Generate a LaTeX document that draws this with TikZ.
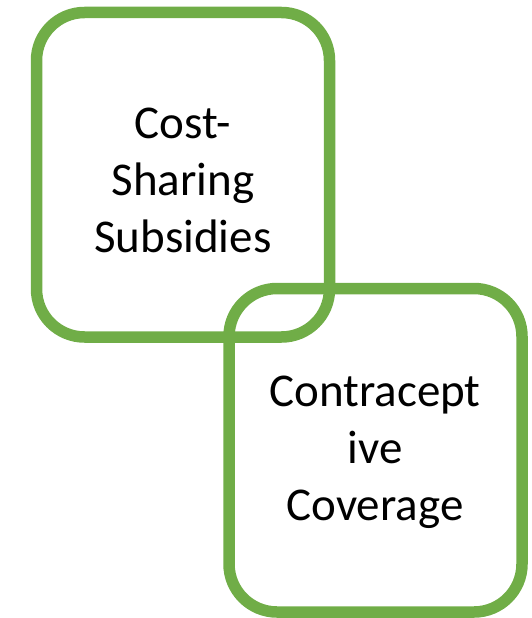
\documentclass[tikz,border=0pt]{standalone}
\usepackage{fontspec}
\setmainfont{Carlito}
\definecolor{boxgreen}{HTML}{70AD47}
\begin{document}
\begin{tikzpicture}[x=1pt,y=-1pt,
  roundbox/.style={draw=boxgreen, line width=11.5pt, rounded corners=48pt},
  boxtext/.style={align=center, font=\fontsize{47}{57}\selectfont, text=black}]
\useasboundingbox (0,0) rectangle (531,618);
% two overlapping rounded squares
\draw[roundbox] (36.5,12.5) rectangle (329.5,337);
\draw[roundbox] (229,288.5) rectangle (522,612);
% labels
\node[boxtext] (cost) at (183,180) {Cost-\\Sharing\\Subsidies};
\node[boxtext] (contra) at (375,452) {Contracept\\ive\\Coverage};
\end{tikzpicture}
\end{document}
